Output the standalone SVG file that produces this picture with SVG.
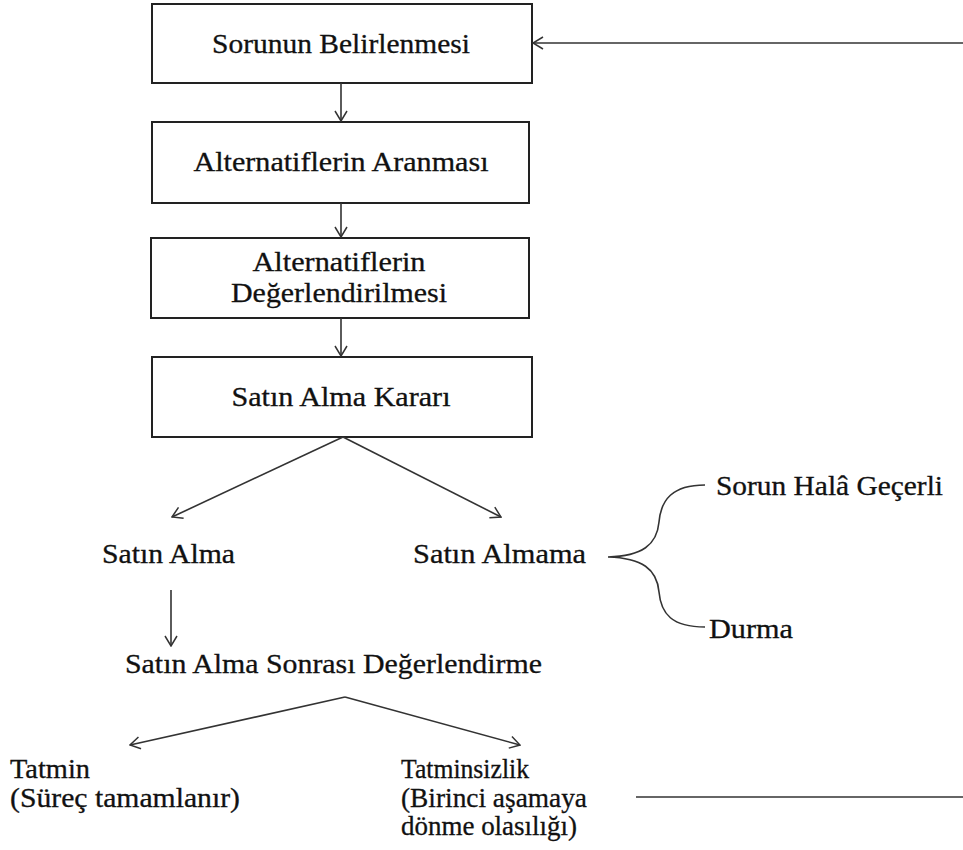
<svg xmlns="http://www.w3.org/2000/svg" width="963" height="850" viewBox="0 0 963 850">
  <style>
    .box { fill: #ffffff; stroke: #222222; stroke-width: 2; }
    .lbl { font-family: 'Liberation Serif', 'Times New Roman', serif; font-size: 27px; fill: #111111; stroke: #111111; stroke-width: 0.3; }
    .mid { text-anchor: middle; }
    .ln { fill: none; stroke: #333333; stroke-width: 1.6; }
  </style>
  <defs>
    <marker id="arrow" viewBox="0 0 12 14" refX="11" refY="7" markerWidth="12" markerHeight="14" markerUnits="userSpaceOnUse" orient="auto">
      <path d="M1,1 L11,7 L1,13" fill="none" stroke="#333333" stroke-width="1.5"/>
    </marker>
  </defs>
  <rect width="963" height="850" fill="#ffffff"/>

  <!-- process boxes -->
  <g id="sorun">
    <rect class="box" x="152" y="4" width="380" height="79"/>
    <text class="lbl mid" x="341" y="53" textLength="258" lengthAdjust="spacingAndGlyphs">Sorunun Belirlenmesi</text>
  </g>
  <g id="arama">
    <rect class="box" x="152" y="122" width="377" height="81"/>
    <text class="lbl mid" x="341" y="171" textLength="295" lengthAdjust="spacingAndGlyphs">Alternatiflerin Aranması</text>
  </g>
  <g id="degerlendirme">
    <rect class="box" x="151" y="238" width="378" height="80"/>
    <text class="lbl mid" x="339" y="271" textLength="173" lengthAdjust="spacingAndGlyphs">Alternatiflerin</text>
    <text class="lbl mid" x="339" y="302" textLength="216" lengthAdjust="spacingAndGlyphs">Değerlendirilmesi</text>
  </g>
  <g id="karar">
    <rect class="box" x="152" y="357" width="380" height="80"/>
    <text class="lbl mid" x="341" y="406" textLength="219" lengthAdjust="spacingAndGlyphs">Satın Alma Kararı</text>
  </g>

  <!-- outcome labels -->
  <g id="satin-alma">
    <text class="lbl" x="102" y="563" textLength="133" lengthAdjust="spacingAndGlyphs">Satın Alma</text>
  </g>
  <g id="satin-almama">
    <text class="lbl" x="413" y="563" textLength="173" lengthAdjust="spacingAndGlyphs">Satın Almama</text>
  </g>
  <g id="sorun-gecerli">
    <text class="lbl" x="716" y="495" textLength="227" lengthAdjust="spacingAndGlyphs">Sorun Halâ Geçerli</text>
  </g>
  <g id="durma">
    <text class="lbl" x="709" y="638" textLength="84" lengthAdjust="spacingAndGlyphs">Durma</text>
  </g>
  <g id="sonrasi">
    <text class="lbl" x="125" y="673" textLength="417" lengthAdjust="spacingAndGlyphs">Satın Alma Sonrası Değerlendirme</text>
  </g>
  <g id="tatmin">
    <text class="lbl" x="10" y="778" textLength="80" lengthAdjust="spacingAndGlyphs">Tatmin</text>
    <text class="lbl" x="10" y="807" textLength="230" lengthAdjust="spacingAndGlyphs">(Süreç tamamlanır)</text>
  </g>
  <g id="tatminsizlik">
    <text class="lbl" x="401" y="778" textLength="128" lengthAdjust="spacingAndGlyphs">Tatminsizlik</text>
    <text class="lbl" x="401" y="807" textLength="186" lengthAdjust="spacingAndGlyphs">(Birinci aşamaya</text>
    <text class="lbl" x="401" y="835" textLength="176" lengthAdjust="spacingAndGlyphs">dönme olasılığı)</text>
  </g>

  <!-- connectors -->
  <g id="connectors">
    <line class="ln" x1="341" y1="83" x2="341" y2="121" marker-end="url(#arrow)"/>
    <line class="ln" x1="341" y1="203" x2="341" y2="237" marker-end="url(#arrow)"/>
    <line class="ln" x1="341" y1="318" x2="341" y2="356" marker-end="url(#arrow)"/>
    <line class="ln" x1="343" y1="437" x2="172" y2="517" marker-end="url(#arrow)"/>
    <line class="ln" x1="343" y1="437" x2="501" y2="517" marker-end="url(#arrow)"/>
    <line class="ln" x1="171" y1="590" x2="171" y2="646" marker-end="url(#arrow)"/>
    <line class="ln" x1="345" y1="697" x2="130" y2="745" marker-end="url(#arrow)"/>
    <line class="ln" x1="345" y1="697" x2="520" y2="745" marker-end="url(#arrow)"/>
    <path class="ln" d="M705,485 C672,485 661,500 659,522 C657,545 642,556 608,557 C642,558 657,569 659,592 C661,614 672,627 705,627"/>
    <line class="ln" x1="636" y1="797" x2="963" y2="797"/>
    <line class="ln" x1="963" y1="43" x2="533" y2="43" marker-end="url(#arrow)"/>
  </g>
</svg>
